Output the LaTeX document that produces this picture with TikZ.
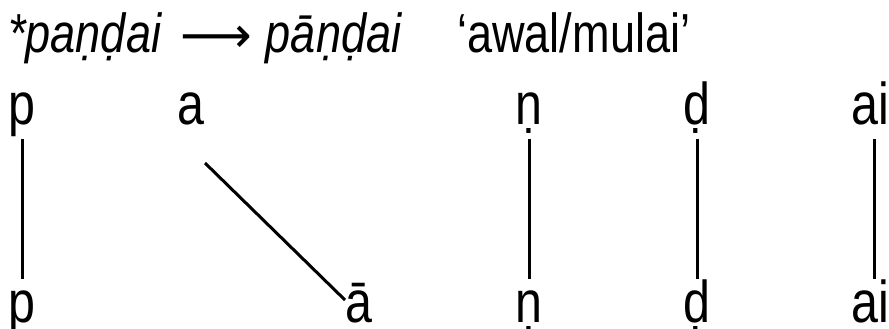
\documentclass[tikz,border=0pt]{standalone}
\usepackage{fontspec}
\setmainfont{Liberation Sans}[FakeStretch=0.82]
\newfontfamily\arrowfont{DejaVu Sans}
\begin{document}
\begin{tikzpicture}[x=1pt,y=-1pt,
  seg/.style={inner sep=0pt, anchor=base, font=\fontsize{59}{60}\selectfont, text height=43pt, text depth=15pt},
  ttl/.style={inner sep=0pt, anchor=base west, font=\fontsize{55}{60}\selectfont},
  link/.style={line width=3pt}]
\useasboundingbox (0,0) rectangle (889,329);
\node[ttl] (title) at (8,53) {\itshape *paṇḍai\hspace{19pt}{\upshape\arrowfont\fontsize{50}{50}\selectfont ⟶}\hspace{14pt}pāṇḍai};
\node[ttl] (gloss) at (457,53) {‘awal/mulai’};
% upper row
\node[seg] (p1) at (22,124) {p};
\node[seg] (a1) at (191,124) {a};
\node[seg] (n1) at (529,124) {ṇ};
\node[seg] (d1) at (697,124) {ḍ};
\node[seg] (ai1) at (870,124) {ai};
% lower row
\node[seg] (p2) at (22,322) {p};
\node[seg] (a2) at (359,322) {ā};
\node[seg] (n2) at (529,322) {ṇ};
\node[seg] (d2) at (697,322) {ḍ};
\node[seg] (ai2) at (870,322) {ai};
% links
\draw[link] (p1.south) -- (p2.north);
\draw[link] ([shift={(14,39)}]a1.base) -- ([shift={(-14,-22)}]a2.base);
\draw[link] (n1.south) -- (n2.north);
\draw[link] (d1.south) -- (d2.north);
\draw[link] ([xshift=4pt]ai1.south) -- ([xshift=4pt]ai2.north);
\end{tikzpicture}
\end{document}
